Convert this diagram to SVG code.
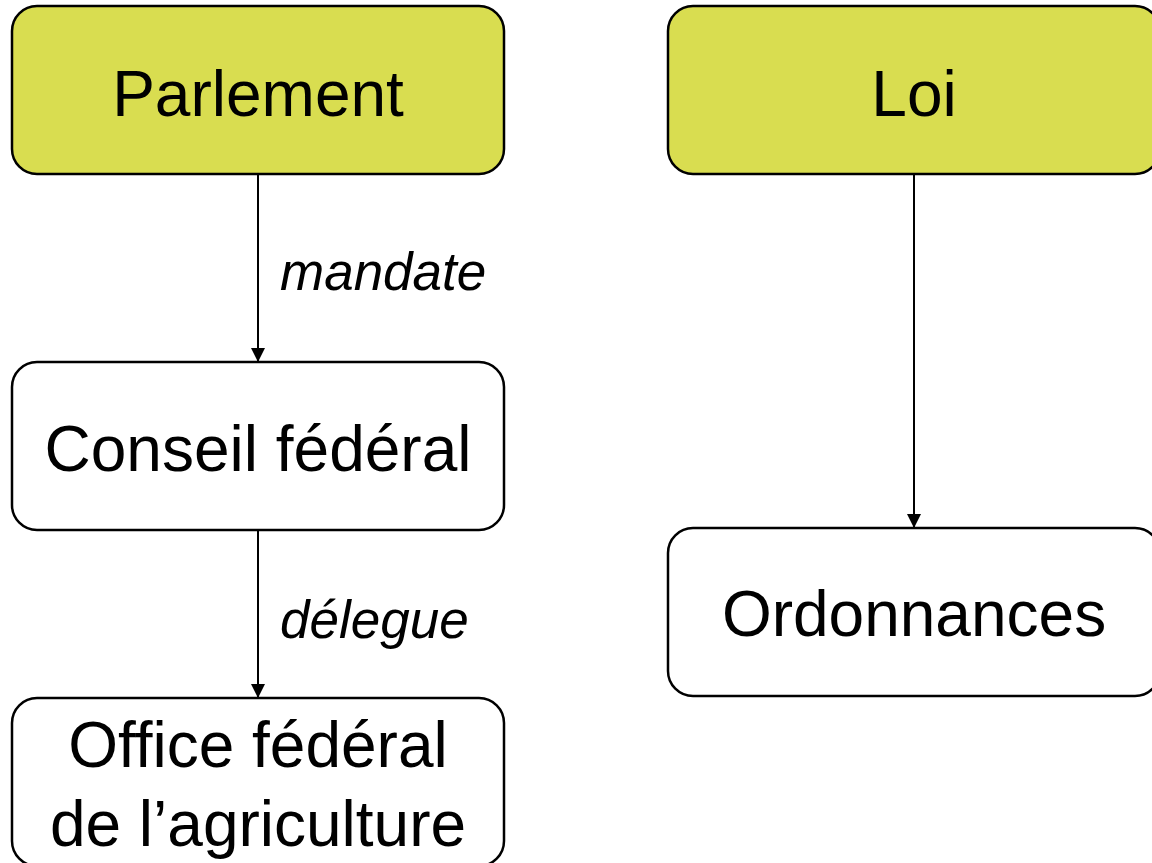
<svg xmlns="http://www.w3.org/2000/svg" width="1152" height="863" viewBox="0 0 1152 863">
<style>
.box{stroke:#000;stroke-width:2.5}
.hi{fill:#d9dd50}
.lo{fill:#fff}
.t{font-family:"Liberation Sans",Arial,sans-serif;font-size:64px;fill:#000;text-anchor:middle}
.lbl{font-family:"Liberation Sans",Arial,sans-serif;font-size:53px;font-style:italic;fill:#000}
.c{stroke:#000;stroke-width:2;fill:none}
</style>
<defs>
<marker id="ah" markerWidth="14" markerHeight="14" refX="14" refY="7" orient="auto" markerUnits="userSpaceOnUse">
<path d="M0,0 L14,7 L0,14 Z" fill="#000"/>
</marker>
</defs>
<rect width="1152" height="863" fill="#fff"/>
<g id="connectors">
<line class="c" x1="258" y1="174" x2="258" y2="362" marker-end="url(#ah)"/>
<line class="c" x1="258" y1="530" x2="258" y2="698" marker-end="url(#ah)"/>
<line class="c" x1="914" y1="174" x2="914" y2="528" marker-end="url(#ah)"/>
<text class="lbl" x="280" y="290">mandate</text>
<text class="lbl" x="280" y="638">délegue</text>
</g>
<g id="parlement">
<rect class="box hi" x="12" y="6" width="492" height="168" rx="25"/>
<text class="t" x="258" y="116">Parlement</text>
</g>
<g id="loi">
<rect class="box hi" x="668" y="6" width="492" height="168" rx="25"/>
<text class="t" x="914" y="116">Loi</text>
</g>
<g id="conseil">
<rect class="box lo" x="12" y="362" width="492" height="168" rx="25"/>
<text class="t" x="258" y="471">Conseil fédéral</text>
</g>
<g id="ordonnances">
<rect class="box lo" x="668" y="528" width="492" height="168" rx="25"/>
<text class="t" x="914" y="636">Ordonnances</text>
</g>
<g id="office">
<rect class="box lo" x="12" y="698" width="492" height="168" rx="25"/>
<text class="t" x="258" y="767">Office fédéral</text>
<text class="t" x="258" y="846">de l’agriculture</text>
</g>
</svg>
